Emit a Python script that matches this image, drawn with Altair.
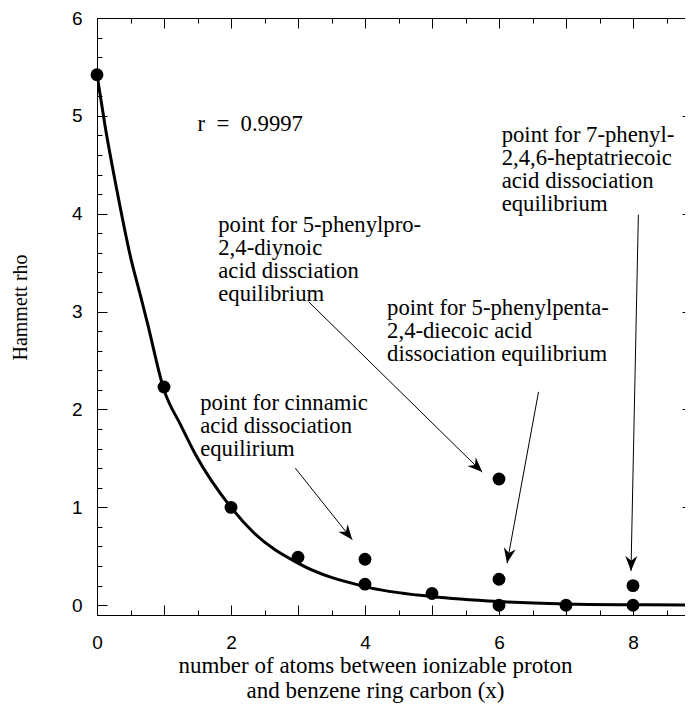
import math
import altair as alt
import pandas as pd

# ---- data ----
pt_x = [0, 1, 2, 3, 4, 4, 5, 6, 6, 6, 7, 8, 8]
pt_y = [5.42, 2.23, 1.0, 0.49, 0.47, 0.215, 0.12, 1.29, 0.265, 0.0, 0.0, 0.20, 0.0]

curve_x = [0, 0.12, 0.3, 0.5, 0.65, 0.75, 1.0, 1.25, 1.47, 2.0, 2.34, 3.0, 4.0, 5.0, 6.0, 7.0, 8.0, 9.0]
curve_y = [5.42, 4.90, 4.23, 3.56, 3.16, 2.89, 2.20, 1.84, 1.54, 1.0, 0.74, 0.43, 0.19, 0.088, 0.037, 0.013, 0.005, 0.002]

NB = "\u00a0"
ann_x = [1.50, 1.81, 6.04, 4.33, 1.54]
ann_y = [4.85, 3.81, 4.735, 2.97, 1.99]
ann_text = [
    "r" + NB * 2 + "=" + NB * 2 + "0.9997",
    "point for 5-phenylpro-\n2,4-diynoic\nacid dissciation\nequilibrium",
    "point for 7-phenyl-\n2,4,6-heptatriecoic\nacid dissociation\nequilibrium",
    "point for 5-phenylpenta-\n2,4-diecoic acid\ndissociation equilibrium",
    "point for cinnamic\nacid dissociation\nequilirium",
]

arrow_x0 = [2.96, 3.16, 6.59, 8.08]
arrow_y0 = [1.40, 3.10, 2.18, 3.99]
arrow_x1 = [3.81, 5.75, 6.12, 7.97]
arrow_y1 = [0.67, 1.36, 0.43, 0.35]

x_major = [0, 1, 2, 3, 4, 5, 6, 7, 8]
x_minor = [0.5, 1.5, 2.5, 3.5, 4.5, 5.5, 6.5, 7.5, 8.5]
y_major = [0, 1, 2, 3, 4, 5, 6]
y_minor = [round(i * 0.2, 1) for i in range(31) if i % 5 != 0]
x_title = ["number of atoms between ionizable proton", "and benzene ring carbon (x)" + NB * 7]
y_title = "Hammett rho"

# ---- layout ----
PX_PER_X = 67.0
W, H = 588, 597
XD = [0, W / PX_PER_X]
YD = [-0.1, 6]
sx = PX_PER_X
sy = H / (YD[1] - YD[0])

angles = []
for a, b, c, d in zip(arrow_x0, arrow_y0, arrow_x1, arrow_y1):
    dx = (c - a) * sx
    dy = -(d - b) * sy
    angles.append(math.degrees(math.atan2(-dx, dy)) % 360)

pts = pd.DataFrame({"x": pt_x, "y": pt_y})
crv = pd.DataFrame({"x": curve_x, "y": curve_y})
ann = pd.DataFrame({"x": ann_x, "y": ann_y, "text": ann_text})
arr = pd.DataFrame({"x0": arrow_x0, "y0": arrow_y0, "x1": arrow_x1, "y1": arrow_y1, "angle": angles})

xs = alt.Scale(domain=XD, nice=False, zero=False)
ys = alt.Scale(domain=YD, nice=False, zero=False)

SERIF = "Liberation Serif"
SANS = "Liberation Sans"


def tick_axis(orient, values, size, domain=False):
    return alt.Axis(orient=orient, values=values, labels=False, title=None, grid=False,
                    domain=domain, tickSize={"expr": str(-size)},
                    tickColor="black", domainColor="black")


bottom_axis = alt.Axis(
    orient="bottom", values=x_major, grid=False, domain=True,
    tickColor="black", domainColor="black",
    labelExpr="datum.value % 2 === 0 ? format(datum.value, 'd') : ''",
    labelFont=SANS, labelFontSize=19, labelPadding=28, labelFlush=False, labelOverlap=False,
    labelColor="black",
    tickSize={"expr": "-10"},
    title=x_title, titleFont=SERIF, titleFontSize=23, titleFontWeight="normal", titleColor="black",
    titleLineHeight=25, titleX=278, titleY=57.5, titleBaseline="alphabetic", titleAlign="center",
)
left_axis = alt.Axis(
    orient="left", values=y_major, grid=False, domain=True,
    tickColor="black", domainColor="black",
    labelExpr="format(datum.value, 'd')",
    labelFont=SANS, labelFontSize=19, labelPadding=25, labelFlush=False, labelOverlap=False,
    labelColor="black",
    tickSize={"expr": "-10"},
    title=y_title, titleFont=SERIF, titleFontSize=20, titleFontWeight="normal", titleColor="black",
    titleX=-70.7, titleY=289, titleAngle=270, titleBaseline="alphabetic", titleAlign="center",
)

curve = alt.Chart(crv).mark_line(color="black", strokeWidth=3, interpolate="monotone", clip=True).encode(
    x=alt.X("x:Q", scale=xs, axis=tick_axis("top", x_major, 10, domain=True)),
    y=alt.Y("y:Q", scale=ys, axis=tick_axis("right", y_major, 3)),
)
points = alt.Chart(pts).mark_circle(size=165, color="black", opacity=1).encode(
    x=alt.X("x:Q", scale=xs, axis=bottom_axis),
    y=alt.Y("y:Q", scale=ys, axis=left_axis),
)
rules = alt.Chart(arr).mark_rule(color="black", strokeWidth=1).encode(
    x=alt.X("x0:Q", scale=xs, axis=tick_axis("bottom", x_minor, 5)),
    y=alt.Y("y0:Q", scale=ys, axis=tick_axis("left", y_minor, 5)),
    x2="x1:Q",
    y2="y1:Q",
)
heads = alt.Chart(arr).mark_point(
    shape="M0,0 L-0.4,-1 L0,-0.68 L0.4,-1 Z", filled=True, size=900, color="black", opacity=1, strokeWidth=0
).encode(
    x=alt.X("x1:Q", scale=xs, axis=tick_axis("top", x_minor, 5)),
    y=alt.Y("y1:Q", scale=ys, axis=None),
    angle=alt.Angle("angle:Q", scale=None),
)
texts = alt.Chart(ann).mark_text(
    align="left", baseline="alphabetic", font=SERIF, fontSize=22.7, lineHeight=23, lineBreak="\n", color="black"
).encode(
    x=alt.X("x:Q", scale=xs, axis=None),
    y=alt.Y("y:Q", scale=ys, axis=None),
    text="text:N",
)

chart = alt.layer(curve, points, rules, heads, texts).resolve_axis(
    x="independent", y="independent"
).properties(
    width=W, height=H, background="white",
    autosize=alt.AutoSizeParams(type="none"),
    padding={"left": 89, "top": 10, "right": 0, "bottom": 88},
).configure_view(strokeWidth=0, stroke=None).configure_axis(
    grid=False, tickColor="black", tickWidth=1, domainColor="black", domainWidth=1,
    labelColor="black", titleColor="black"
)

chart.save("out.html", embed_options={"renderer": "svg", "actions": False})
